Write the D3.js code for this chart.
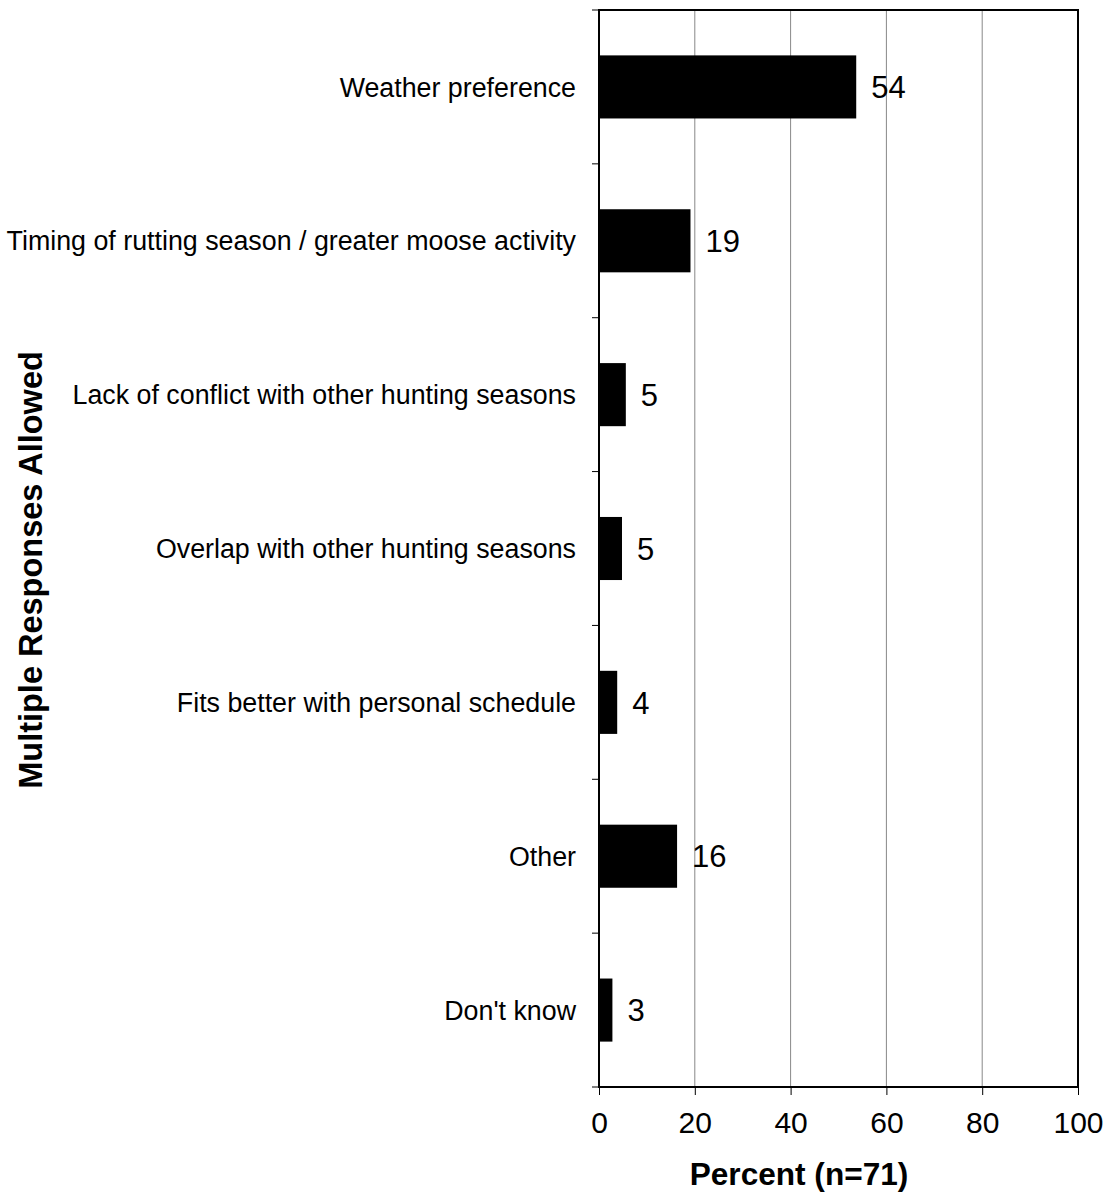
<!DOCTYPE html>
<html><head><meta charset="utf-8">
<script src="https://cdn.jsdelivr.net/npm/d3@7"></script>
<style>body{margin:0;background:#fff;} text{font-family:Arial,"Liberation Sans",sans-serif;}</style>
</head><body>
<svg id="c" width="1109" height="1195"></svg>
<script>
const categories = ["Weather preference","Timing of rutting season / greater moose activity","Lack of conflict with other hunting seasons","Overlap with other hunting seasons","Fits better with personal schedule","Other","Don't know"];
const values = [53.7, 19.1, 5.6, 4.8, 3.8, 16.3, 2.8];
const valueLabels = ["54","19","5","5","4","16","3"];
const xTicks = [0,20,40,60,80,100];
const xTitle = "Percent (n=71)";
const yTitle = "Multiple Responses Allowed";

const svg = d3.select("#c");
const L=599, R=1078, T=10, B=1087;
const x = d3.scaleLinear().domain([0,100]).range([L,R]);
const y = d3.scaleBand().domain(categories).range([T,B]).paddingInner(0.59).paddingOuter(0.295);
const yb = d3.scaleBand().domain(categories).range([T,B]);

// gridlines
svg.append("g").selectAll("line").data(xTicks.filter(d=>d>0&&d<100)).join("line")
  .attr("x1",d=>x(d)).attr("x2",d=>x(d)).attr("y1",T).attr("y2",B)
  .attr("stroke","#888").attr("stroke-width",1);

// bars
svg.append("g").selectAll("rect").data(categories).join("rect")
  .attr("x",x(0)).attr("y",d=>y(d)).attr("width",(d,i)=>x(values[i])-x(0)).attr("height",y.bandwidth())
  .attr("fill","#000");

// value labels
svg.append("g").selectAll("text").data(categories).join("text")
  .attr("x",(d,i)=>x(values[i])+15).attr("y",d=>y(d)+y.bandwidth()/2)
  .attr("dy","0.36em").attr("font-size",31).text((d,i)=>valueLabels[i]);

// frame
svg.append("rect").attr("x",L).attr("y",T).attr("width",R-L).attr("height",B-T)
  .attr("fill","none").attr("stroke","#000").attr("stroke-width",2);

// y ticks (band boundaries)
const yEdges = categories.map(c=>yb(c)).concat([B]);
svg.append("g").selectAll("line").data(yEdges).join("line")
  .attr("x1",L-7).attr("x2",L).attr("y1",d=>d).attr("y2",d=>d).attr("stroke","#000").attr("stroke-width",1);

// x axis
const xa = svg.append("g").attr("transform",`translate(0,${B})`)
  .call(d3.axisBottom(x).tickValues(xTicks).tickSize(8).tickPadding(17));
xa.select(".domain").remove();
xa.selectAll(".tick line").attr("stroke","#000");
xa.selectAll("text").attr("font-size",30).attr("fill","#000").attr("font-family","Arial, 'Liberation Sans', sans-serif");

// category labels
svg.append("g").selectAll("text").data(categories).join("text")
  .attr("x",576).attr("y",d=>yb(d)+yb.bandwidth()/2).attr("dy","0.36em")
  .attr("text-anchor","end").attr("font-size",26.8).text(d=>d);

// titles
svg.append("text").attr("x",799).attr("y",1185).attr("text-anchor","middle")
  .attr("font-size",31.6).attr("font-weight","bold").text(xTitle);
svg.append("text").attr("transform",`translate(42,570) rotate(-90)`).attr("text-anchor","middle")
  .attr("font-size",32.5).attr("font-weight","bold").text(yTitle);
</script>
</body></html>
